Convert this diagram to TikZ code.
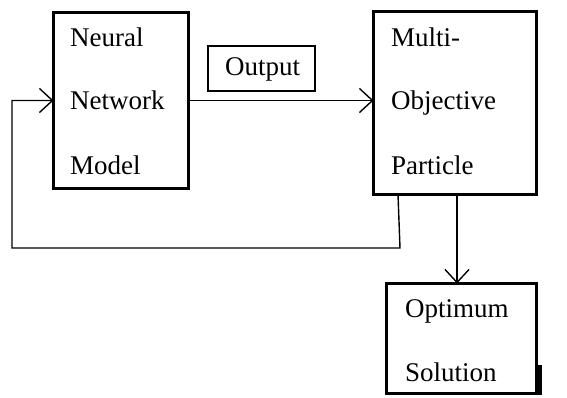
\documentclass[tikz,border=0pt]{standalone}
\usepackage{fontspec}
\setmainfont{Liberation Serif}
\usetikzlibrary{arrows.meta}
\begin{document}
\begin{tikzpicture}[x=1pt,y=-1pt,
  box/.style={draw,line width=3pt,minimum width=#1,outer sep=0pt,inner sep=0pt},
  lbl/.style={anchor=base west,inner sep=0pt,font=\fontsize{27}{30}\selectfont},
  arr/.style={line width=1.4pt,-{Straight Barb[length=13pt,width=24pt,line width=1.4pt]}},
  line/.style={line width=1.4pt}]
\useasboundingbox (0,0) rectangle (567,398);
% blocks
\node[box=135pt,minimum height=176pt] (nn) at (121,100.5) {};
\node[box=163pt,minimum height=183pt] (mop) at (455,103) {};
\node[box=150pt,minimum height=110pt] (opt) at (461.5,338.5) {};
\node[draw,line width=1.4pt,minimum width=107pt,minimum height=45pt,inner sep=0pt] (outbox) at (261.5,68.5) {};
% shadow fragment at the lower right of the result block
\fill (535.5,365) rectangle (542,394.5);
% texts
\node[lbl] (t1) at (70,47) {Neural};
\node[lbl] (t2) at (70,110) {Network};
\node[lbl] (t3) at (70,175) {Model};
\node[lbl] (t4) at (391,47) {Multi-};
\node[lbl] (t5) at (391,110) {Objective};
\node[lbl] (t6) at (391,175) {Particle};
\node[lbl] (t7) at (405,317) {Optimum};
\node[lbl] (t8) at (405,381) {Solution};
\node[lbl] (t9) at (225,76) {Output};
% connectors
\coordinate (fbtop) at (398,194.5);
\coordinate (fbcorner) at (400,248);
\coordinate (fbleft) at (12,248);
\coordinate (fbup) at (12,100.5);
\coordinate (dntop) at (457,194.5);
\coordinate (dnbot) at (457,283.5);
\draw[arr] (nn.east) -- (mop.west |- nn.east);
\draw[arr] (fbtop) -- (fbcorner) -- (fbleft) -- (fbup) -- (nn.west);
\draw[arr] (dntop) -- (dnbot);
\end{tikzpicture}
\end{document}
